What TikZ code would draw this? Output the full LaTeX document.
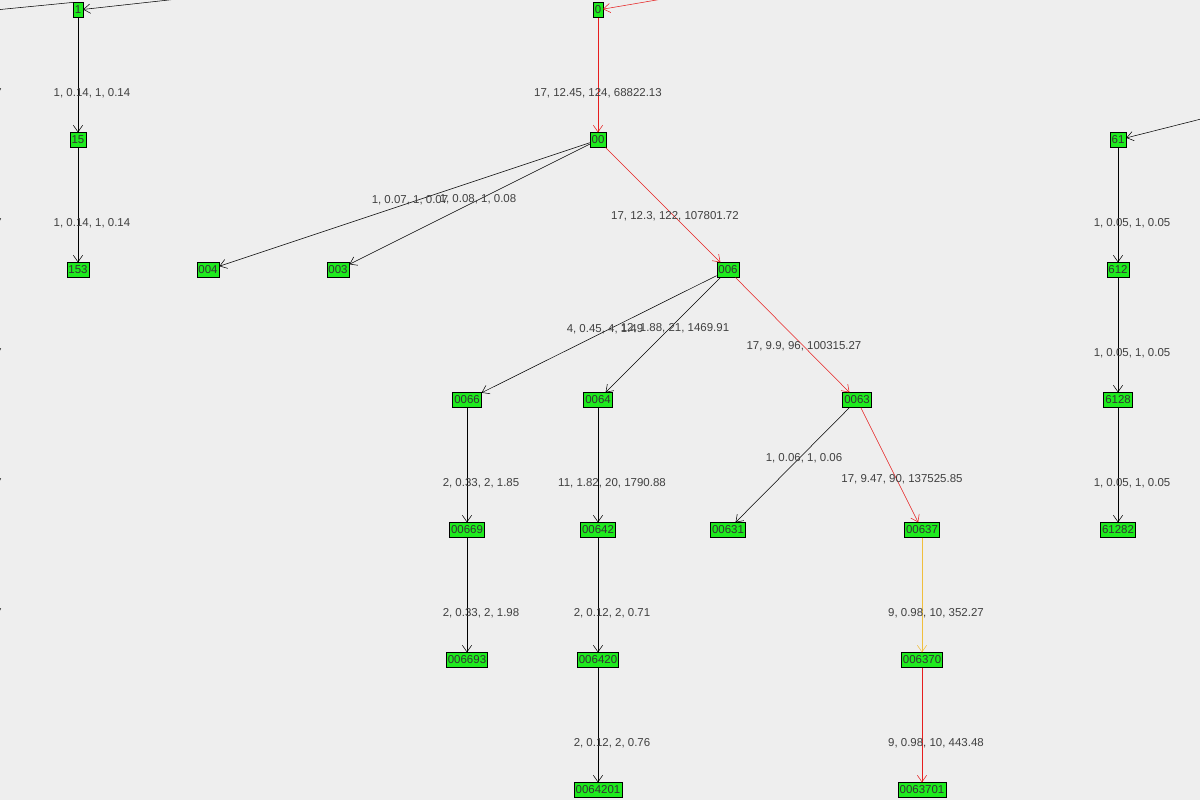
\documentclass[tikz,border=0pt]{standalone}
\usepackage{fontspec}
\setmainfont{Liberation Sans}
\usetikzlibrary{arrows.meta}
\definecolor{bg}{RGB}{238,238,238}
\definecolor{ng}{RGB}{30,235,30}
\definecolor{er}{RGB}{230,30,30}
\definecolor{eo}{RGB}{240,190,60}
\begin{document}
\begin{tikzpicture}[x=0.75pt,y=-0.75pt,
  nd/.style={draw=black,fill=ng,inner sep=1.2pt,minimum height=11pt,font=\fontsize{8.6}{9}\selectfont,text=black!80},
  lb/.style={font=\fontsize{8.6}{9}\selectfont,text=black!75},
  ed/.style={draw=black,-{Straight Barb[length=5pt,width=7pt]}},
  edr/.style={ed,draw=er,-{Straight Barb[length=5pt,width=7pt,color=er]}},
  edo/.style={ed,draw=eo,-{Straight Barb[length=5pt,width=7pt,color=eo]}}]
\fill[bg] (0,0) rectangle (1200,800);
\useasboundingbox (0,0) rectangle (1200,800);
\foreach \n/\x/\y in {1/78/10,0/598/10,15/78/140,00/598/140,61/1118/140,153/78/270,004/208/270,003/338/270,006/728/270,612/1118/270,0066/467/400,0064/598/400,0063/857/400,6128/1118/400,00669/467/530,00642/598/530,00631/728/530,00637/922/530,61282/1118/530,006693/467/660,006420/598/660,006370/922/660,0064201/598/790,0063701/922/790}
  \node[nd] (n\n) at (\x,\y) {\n};
\coordinate (a1) at (205,-4);
\coordinate (a0) at (680,-4);
\coordinate (a61) at (1205,118);
\coordinate (aL) at (-5,10);
\draw[ed] (a1) -- (n1);
\draw (n1.north west) -- (aL);
\draw[edr] (a0) -- (n0);
\draw[ed] (a61) -- (n61);
\draw[ed] (n1) -- (n15);
\draw[ed] (n15) -- (n153);
\draw[edr] (n0) -- (n00);
\draw[ed] (n00) -- (n004);
\draw[ed] (n00) -- (n003);
\draw[edr] (n00) -- (n006);
\draw[ed] (n61) -- (n612);
\draw[ed] (n612) -- (n6128);
\draw[ed] (n6128) -- (n61282);
\draw[ed] (n006) -- (n0066);
\draw[ed] (n006) -- (n0064);
\draw[edr] (n006) -- (n0063);
\draw[ed] (n0066) -- (n00669);
\draw[ed] (n00669) -- (n006693);
\draw[ed] (n0064) -- (n00642);
\draw[ed] (n00642) -- (n006420);
\draw[ed] (n006420) -- (n0064201);
\draw[ed] (n0063) -- (n00631);
\draw[edr] (n0063) -- (n00637);
\draw[edo] (n00637) -- (n006370);
\draw[edr] (n006370) -- (n0063701);
\foreach \t/\x/\y in {{1, 0.14, 1, 0.14}/92/93,{1, 0.14, 1, 0.14}/92/223,{17, 12.45, 124, 68822.13}/598/93,{1, 0.07, 1, 0.07}/410/200,{1, 0.08, 1, 0.08}/478/199,{17, 12.3, 122, 107801.72}/675/216,{4, 0.45, 4, 1.49}/605/329,{12, 1.88, 21, 1469.91}/675/328,{17, 9.9, 96, 100315.27}/804/346,{1, 0.05, 1, 0.05}/1132/223,{1, 0.05, 1, 0.05}/1132/353,{1, 0.05, 1, 0.05}/1132/483,{2, 0.33, 2, 1.85}/481/483,{11, 1.82, 20, 1790.88}/612/483,{1, 0.06, 1, 0.06}/804/458,{17, 9.47, 90, 137525.85}/902/479,{2, 0.33, 2, 1.98}/481/613,{2, 0.12, 2, 0.71}/612/613,{9, 0.98, 10, 352.27}/936/613,{2, 0.12, 2, 0.76}/612/743,{9, 0.98, 10, 443.48}/936/743}
  \node[lb] at (\x,\y) {\t};
\foreach \y in {93,223,353,483,613}
  \node[lb,anchor=east,inner sep=0pt] at (2,\y) {7};
\end{tikzpicture}
\end{document}
